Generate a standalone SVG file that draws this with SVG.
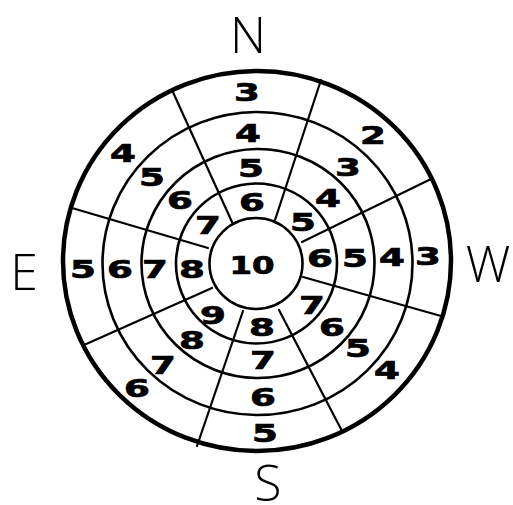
<svg xmlns="http://www.w3.org/2000/svg" width="513" height="505" viewBox="0 0 513 505">
<style>
.ring{fill:none;stroke:#000;stroke-width:2.6}
.outer{fill:none;stroke:#000;stroke-width:4.5}
.sp{stroke:#000;stroke-width:2.2;stroke-linecap:round}
.d{font-family:"DejaVu Sans","Liberation Sans",sans-serif;font-weight:bold;font-size:24px;text-anchor:middle;fill:#000;stroke:#000;stroke-width:0.7;transform-box:fill-box;transform-origin:center;transform:scaleX(1.55)}
.ten{transform:scaleX(1.35)}
.c{font-family:"Open Sans","Liberation Sans",sans-serif;font-weight:300;font-size:50px;text-anchor:middle;fill:#000}
</style>
<rect width="513" height="505" fill="#fff"/>
<g id="rings">
<ellipse class="outer" cx="257" cy="261" rx="194" ry="190"/>
<ellipse class="ring" cx="257.5" cy="263.5" rx="155" ry="151.5"/>
<ellipse class="ring" cx="258" cy="263.5" rx="116.5" ry="114.5"/>
<ellipse class="ring" cx="256.5" cy="263.5" rx="80.5" ry="80"/>
<ellipse class="ring" cx="256" cy="263.5" rx="46.5" ry="45.5"/>
</g>
<g id="spokes">
<line class="sp" x1="172" y1="90" x2="232" y2="222"/>
<line class="sp" x1="321" y1="80" x2="275" y2="220"/>
<line class="sp" x1="431" y1="179" x2="302" y2="242"/>
<line class="sp" x1="441" y1="316" x2="303" y2="277"/>
<line class="sp" x1="342" y1="431" x2="279" y2="310"/>
<line class="sp" x1="197" y1="446" x2="243" y2="311"/>
<line class="sp" x1="84" y1="345" x2="212" y2="288"/>
<line class="sp" x1="72" y1="208" x2="208" y2="248"/>
</g>
<g id="compass">
<text class="c" x="248" y="53">N</text>
<text class="c" x="24" y="290">E</text>
<text class="c" x="488" y="282">W</text>
<text class="c" x="268" y="501">S</text>
</g>
<g id="values">
<text class="d ten" x="252" y="274">10</text>
<g id="north">
<text class="d" x="247" y="101">3</text>
<text class="d" x="248" y="142">4</text>
<text class="d" x="251" y="177">5</text>
<text class="d" x="252" y="211">6</text>
</g>
<g id="northwest-w">
<text class="d" x="373" y="144">2</text>
<text class="d" x="348" y="176">3</text>
<text class="d" x="328" y="207">4</text>
<text class="d" x="303" y="231">5</text>
</g>
<g id="west">
<text class="d" x="320" y="267">6</text>
<text class="d" x="355" y="267">5</text>
<text class="d" x="392" y="266.5">4</text>
<text class="d" x="428" y="265.5">3</text>
</g>
<g id="southwest-w">
<text class="d" x="312" y="314">7</text>
<text class="d" x="332" y="336">6</text>
<text class="d" x="358" y="357">5</text>
<text class="d" x="387" y="379">4</text>
</g>
<g id="south">
<text class="d" x="262" y="336">8</text>
<text class="d" x="263" y="369">7</text>
<text class="d" x="263" y="406">6</text>
<text class="d" x="265" y="442">5</text>
</g>
<g id="southeast-e">
<text class="d" x="213" y="324">9</text>
<text class="d" x="192" y="349">8</text>
<text class="d" x="163" y="374">7</text>
<text class="d" x="137" y="397">6</text>
</g>
<g id="east">
<text class="d" x="83" y="278">5</text>
<text class="d" x="120" y="278">6</text>
<text class="d" x="155" y="278">7</text>
<text class="d" x="192" y="278">8</text>
</g>
<g id="northeast-e">
<text class="d" x="123" y="162">4</text>
<text class="d" x="152" y="186">5</text>
<text class="d" x="180" y="209">6</text>
<text class="d" x="208" y="234">7</text>
</g>
</g>
</svg>
